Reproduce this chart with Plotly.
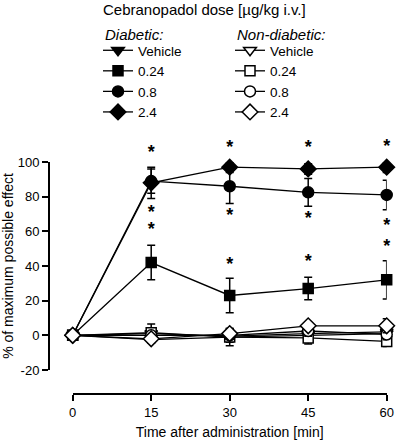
import plotly.graph_objects as go

times = [0, 15, 30, 45, 60]

dose_labels = ["Vehicle", "0.24", "0.8", "2.4"]

diab_vehicle = [0, -2.5, -1, 0, 1]
diab_vehicle_err = [0, 2, 5, 2, 2]
diab_024 = [0, 42, 23, 27, 32]
diab_024_err = [0, 10, 10, 6.5, 11]
diab_08 = [0, 89, 86, 82.5, 81]
diab_08_err = [0, 7, 10, 8, 8.5]
diab_24 = [0, 88, 97, 96, 97]
diab_24_err = [0, 9, 3, 3, 3]

non_vehicle = [0, 1, -0.5, 1, 2]
non_vehicle_err = [0, 2, 2, 2, 2]
non_024 = [0, 1.5, -1, -1.5, -3.5]
non_024_err = [0, 5, 3, 3.5, 3]
non_08 = [0, 0, 0, 2.5, 0.5]
non_08_err = [0, 2, 2, 3, 3]
non_24 = [0, -2, 1, 5.5, 5.5]
non_24_err = [0, 2, 3, 2, 4]

star_x = [15, 15, 15, 30, 30, 30, 45, 45, 45, 60, 60, 60]
star_y = [105, 70.3, 60.5, 107.8, 68.6, 40.3, 107.8, 66.8, 42, 108.4, 62.8, 50.7]

yticks = [-20, 0, 20, 40, 60, 80, 100]
ytick_text = ["-20", "0", "20", "40", "60", "80", "100"]
xticks = [0, 15, 30, 45, 60]

FONT = "Liberation Sans, Arial, sans-serif"
W, H = 398, 440


def fx(sx):
    return sx / W


def fy(sy):
    return 1 - sy / H


fig = go.Figure()

series = [
    (diab_vehicle, diab_vehicle_err, "triangle-down", True, "legend", 11),
    (diab_024, diab_024_err, "square", True, "legend", 10),
    (diab_08, diab_08_err, "circle", True, "legend", 11),
    (diab_24, diab_24_err, "diamond", True, "legend", 12),
    (non_vehicle, non_vehicle_err, "triangle-down", False, "legend2", 11),
    (non_024, non_024_err, "square", False, "legend2", 10),
    (non_08, non_08_err, "circle", False, "legend2", 11),
    (non_24, non_24_err, "diamond", False, "legend2", 12),
]

for i, (vals, errs, sym, filled, leg, size) in enumerate(series):
    fig.add_trace(go.Scatter(
        x=times, y=vals, mode="lines+markers", name=dose_labels[i % 4],
        legend=leg,
        line=dict(color="black", width=1.3),
        marker=dict(symbol=sym, size=size,
                    color="black" if filled else "white",
                    line=dict(color="black", width=1.5)),
        error_y=dict(type="data", array=errs, color="black", thickness=1.5, width=4),
        cliponaxis=False,
    ))

x0, x1 = 72.7, 386.7
ytop, ybot = 162, 370
xaxis_px = 394
yaxis_px = 49
px_per_unit = (ybot - ytop) / 120.0
star_top_px = 130

fig.add_trace(go.Scatter(
    x=star_x, y=star_y, mode="text", text=["*"] * len(star_x),
    textfont=dict(family=FONT, size=18, color="black", weight="bold"),
    textposition="middle center", showlegend=False, cliponaxis=False,
    hoverinfo="skip", yaxis="y2",
))

fig.update_layout(
    width=W, height=H,
    margin=dict(l=0, r=0, t=0, b=0),
    paper_bgcolor="white", plot_bgcolor="rgba(0,0,0,0)",
    font=dict(family=FONT, size=13, color="black"),
    xaxis=dict(
        domain=[fx(x0), fx(x1)], range=[0, 60],
        anchor="free", position=fy(xaxis_px),
        tickvals=xticks, ticks="outside", ticklen=6, tickwidth=2, tickcolor="black",
        showline=True, linecolor="black", linewidth=2,
        showgrid=False, zeroline=False, automargin=False,
        tickfont=dict(size=13),
        title=dict(text="Time after administration [min]", font=dict(size=14), standoff=14),
    ),
    yaxis=dict(
        domain=[fy(ybot), fy(ytop)], range=[-20, 100],
        anchor="free", position=fx(yaxis_px),
        tickvals=yticks, ticktext=ytick_text,
        ticks="outside", ticklen=6, tickwidth=2, tickcolor="black",
        showline=True, linecolor="black", linewidth=2,
        showgrid=False, zeroline=False, automargin=False,
        tickfont=dict(size=13),
        title=dict(text="% of maximum possible effect", font=dict(size=14), standoff=12),
    ),
    yaxis2=dict(
        domain=[fy(ybot), fy(star_top_px)],
        range=[-20, 100 + (ytop - star_top_px) / px_per_unit],
        anchor="free", position=0, visible=False,
    ),
    legend=dict(
        x=fx(98), y=fy(35), xanchor="left", yanchor="top",
        font=dict(size=13.5), bgcolor="rgba(0,0,0,0)", tracegroupgap=0,
        itemwidth=30,
    ),
    legend2=dict(
        x=fx(230), y=fy(35), xanchor="left", yanchor="top",
        font=dict(size=13.5), bgcolor="rgba(0,0,0,0)", tracegroupgap=0,
        itemwidth=30,
    ),
    annotations=[
        dict(text="Cebranopadol dose [µg/kg i.v.]", xref="paper", yref="paper",
             x=fx(205), y=fy(9), xanchor="center", yanchor="middle",
             showarrow=False, font=dict(size=15)),
        dict(text="<i>Diabetic:</i>", xref="paper", yref="paper",
             x=fx(103), y=fy(34), xanchor="left", yanchor="middle",
             showarrow=False, font=dict(size=15)),
        dict(text="<i>Non-diabetic:</i>", xref="paper", yref="paper",
             x=fx(235), y=fy(34), xanchor="left", yanchor="middle",
             showarrow=False, font=dict(size=15)),
    ],
    showlegend=True,
)

fig.write_html("out.html", config={"displayModeBar": False},
               post_script="document.body.style.margin='0';")
